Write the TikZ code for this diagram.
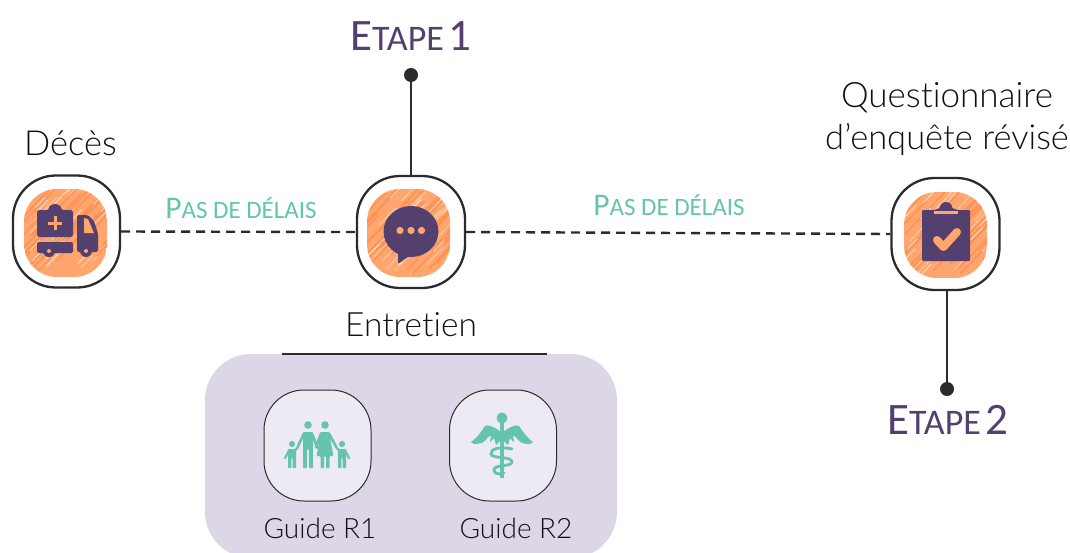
\documentclass[tikz,border=0pt]{standalone}
\usepackage{fontspec}
\setmainfont{Carlito}[Ligatures={NoCommon,NoRequired,NoContextual}]
\newfontfamily\lightfont{Lato Light}[Ligatures={NoCommon,NoRequired,NoContextual}]
\definecolor{ink}{HTML}{2B2B2E}
\definecolor{labink}{HTML}{111114}
\definecolor{plum}{HTML}{54406F}
\definecolor{teal}{HTML}{64C4AD}
\definecolor{panel}{HTML}{DCD6E6}
\definecolor{tile}{HTML}{EDEAF3}
\definecolor{pad}{HTML}{FFA66E}
\definecolor{padlight}{HTML}{FFC79F}
\definecolor{paddark}{HTML}{FF9155}
\newcommand{\orangepad}[4]{%
  \begin{scope}
    \clip[rounded corners=33pt] (#1,#2) rectangle (#3,#4);
    \fill[pad] (#1,#2) rectangle (#3,#4);
    \pgfmathsetseed{#1}
    \foreach \k in {0,...,34}{
      \pgfmathsetmacro{\sx}{#1-40+\k*4+rnd*4}
      \pgfmathsetmacro{\sy}{#4-rnd*50}
      \pgfmathsetmacro{\len}{25+rnd*45}
      \draw[paddark,line width=1.5pt] (\sx,\sy) -- ++(\len,-\len*1.05);
      \pgfmathsetmacro{\sxb}{#1+\k*3+rnd*6}
      \pgfmathsetmacro{\syb}{#2+rnd*85}
      \pgfmathsetmacro{\lenb}{8+rnd*22}
      \draw[padlight,line width=1pt] (\sxb,\syb) -- ++(\lenb,-\lenb*1.05);
    }
    \foreach \k in {0,...,11}{
      \pgfmathsetmacro{\sxc}{#1+rnd*80}
      \pgfmathsetmacro{\syc}{#2+rnd*85}
      \draw[white,opacity=.7,line width=.7pt] (\sxc,\syc) -- ++(10,-10.5);
    }
  \end{scope}}
\tikzset{
  x=1pt,y=-1pt,
  iconbox/.style={draw=ink,line width=2.3pt,fill=white,rounded corners=43pt,inner sep=0pt,minimum width=#1,minimum height=112pt},
  guidebox/.style={draw=ink,line width=1pt,fill=tile,rounded corners=40pt,inner sep=0pt,minimum width=107pt,minimum height=111pt},
  link/.style={draw=ink,line width=2.2pt},
  dashlink/.style={draw=ink,line width=2.4pt,dash pattern=on 9pt off 6pt},
  endpoint/.style={circle,fill=ink,inner sep=0pt,minimum size=14pt},
  lab/.style={anchor=base,inner sep=0pt,text=labink,font=\lightfont\fontsize{#1}{40}\selectfont,align=center},
  guidelab/.style={anchor=base,inner sep=0pt,text=labink,font=\lightfont\fontsize{28}{34}\selectfont},
  delay/.style={anchor=base,inner sep=0pt,text=teal},
  stage/.style={anchor=base,inner sep=0pt,text=plum},
  limb/.style={draw=teal,line width=2.6pt,line cap=round},
}
\newcommand{\delaytext}{{\fontsize{31.5}{30}\selectfont P}{\fontsize{25}{30}\selectfont AS DE DÉLAIS}}
\newcommand{\stagetext}[1]{{\fontsize{45}{45}\selectfont E}{\fontsize{36}{45}\selectfont TAPE}\hspace{5pt}{\fontsize{45}{45}\selectfont #1}}
\begin{document}
\begin{tikzpicture}[line cap=butt]
\useasboundingbox (0,0) rectangle (1070,552);
% panel
\begin{scope}
  \clip (0,0) rectangle (1070,552);
  \fill[panel,rounded corners=46pt] (205,354) rectangle (617,558);
\end{scope}
% boxes
\node[iconbox=107pt] (deces) at (66.5,231.5) {};
\node[iconbox=108pt] (chat) at (411,232) {};
\node[iconbox=108pt] (form) at (945.5,234) {};
\node[guidebox] (r1) at (317.5,445.5) {};
\node[guidebox] (r2) at (503,445.5) {};
% end points
\node[endpoint] (top) at (411,75) {};
\node[endpoint] (bottom) at (947,389) {};
\coordinate (ruleL) at (282,354);
\coordinate (ruleR) at (547,354);
% connectors
\draw[dashlink] (deces.east) -- (chat.west);
\draw[dashlink] (chat.east) -- (form.west);
\draw[link] (chat.north) -- (top);
\draw[link] (form.south -| bottom) -- (bottom);
\draw[draw=ink,line width=1.2pt] (ruleL) -- (ruleR);
% pads
\orangepad{24}{189}{107}{277}
\orangepad{367}{189}{450}{277}
\orangepad{904}{192}{987}{278}
% ambulance
\fill[plum,rounded corners=2.5pt] (37,237) -- (37,210) -- (49,210) arc[start angle=180,end angle=360,radius=6] -- (73,210) -- (73,237) -- cycle;
\fill[pad] (53.5,216) rectangle (56.5,230);
\fill[pad] (48,221.5) rectangle (62,224.5);
\fill[plum,rounded corners=2pt] (37,242) rectangle (73,253);
\fill[plum,rounded corners=2pt] (77,215) -- (88,215) -- (94,221) -- (98,233) -- (98,252) -- (77,252) -- cycle;
\fill[pad] (84,218) -- (88,219) -- (94,233) -- (84,233) -- cycle;
\fill[plum] (49,251) circle (6);
\fill[pad] (49,251) circle (2);
\fill[plum] (86,251) circle (6);
\fill[pad] (86,251) circle (2);
% speech bubble
\fill[plum] (411,231.5) ellipse (27.5 and 25.5);
\fill[plum,rounded corners=1.5pt] (398,250) -- (398,264) -- (412,254) -- cycle;
\fill[pad] (400,230.5) circle (3.6) (411,230.5) circle (3.6) (421.5,230.5) circle (3.6);
% clipboard
\fill[plum,rounded corners=1pt] (922,210) -- (934,210) -- (940,208) arc[start angle=180,end angle=360,radius=6] -- (958,210) -- (970,210) -- (970,261) -- (922,261) -- cycle;
\draw[pad,line width=3.5pt] (934,212.5) -- (958,212.5);
\draw[pad,line width=8pt,line cap=round,line join=round] (937,240) -- (943.5,247) -- (957,232);
% family
\fill[teal] (308,425) circle (3.8) (325,425) circle (3.8) (292,444) circle (3.1) (342,444) circle (3.1);
\fill[teal,rounded corners=1pt] (303,432) -- (313,432) -- (313,468) -- (309,468) -- (309,449) -- (307,449) -- (307,468) -- (303,468) -- cycle;
\fill[teal,rounded corners=1pt] (320.5,432) -- (329.5,432) -- (331,443) -- (333.5,456) -- (329.5,456) -- (329.5,468) -- (326,468) -- (326,456) -- (324,456) -- (324,468) -- (320.5,468) -- (320.5,456) -- (316.5,456) -- (319,443) -- cycle;
\fill[teal,rounded corners=.6pt] (288,449) -- (296,449) -- (296,468) -- (292.7,468) -- (292.7,458) -- (291.3,458) -- (291.3,468) -- (288,468) -- cycle;
\fill[teal,rounded corners=.6pt] (338,449) -- (346,449) -- (346,468) -- (342.7,468) -- (342.7,458) -- (341.3,458) -- (341.3,468) -- (338,468) -- cycle;
\draw[limb] (304,433.5) -- (298,446) (312,433.5) -- (317.5,448) (321,433.5) -- (316,447) (329,433.5) -- (336,446.5);
\draw[limb,line width=2.2pt] (289,450.5) -- (285,458) (295,450.5) -- (298,447) (339,450.5) -- (336,447) (345,450.5) -- (349,458);
% caduceus
\fill[teal] (502,418) circle (5.5);
\draw[teal,line width=3.6pt] (502,420) -- (502,478);
\fill[teal] (501,432) .. controls (494,427) and (488,424) .. (485,426) .. controls (481,432) and (476,439) .. (471,442) .. controls (472,445) and (482,445) .. (486,440) .. controls (488,437) and (490,435) .. (491,436) -- (490,442) -- (494,438) -- (496,445) -- (501,440) -- cycle;
\fill[teal] (503,432) .. controls (510,427) and (516,424) .. (519,426) .. controls (523,432) and (528,439) .. (533,442) .. controls (532,445) and (522,445) .. (518,440) .. controls (516,437) and (514,435) .. (513,436) -- (514,442) -- (510,438) -- (508,445) -- (503,440) -- cycle;
\draw[teal,line width=2.8pt,line cap=round] (512,449) .. controls (500,446) and (490,449) .. (491,454) .. controls (492,459) and (512,456) .. (512,462) .. controls (512,467) and (494,464) .. (494,470) .. controls (494,474) and (500,475) .. (504,473);
% labels
\node[lab=34.5] (t1) at (70.5,155) {Décès};
\node[lab=35] (t2) at (947,107) {Questionnaire};
\node[lab=34.5] (t3) at (947,149) {d’enquête révisé};
\node[lab=33.5] (t4) at (411,336) {Entretien};
\node[guidelab] (t5) at (320,538) {Guide R1};
\node[guidelab] (t6) at (516,538) {Guide R2};
\node[delay] (d1) at (241,218) {\delaytext};
\node[delay] (d2) at (669,215) {\delaytext};
\node[stage] (s1) at (411,50) {\stagetext{1}};
\node[stage] (s2) at (948,434) {\stagetext{2}};
\end{tikzpicture}
\end{document}
